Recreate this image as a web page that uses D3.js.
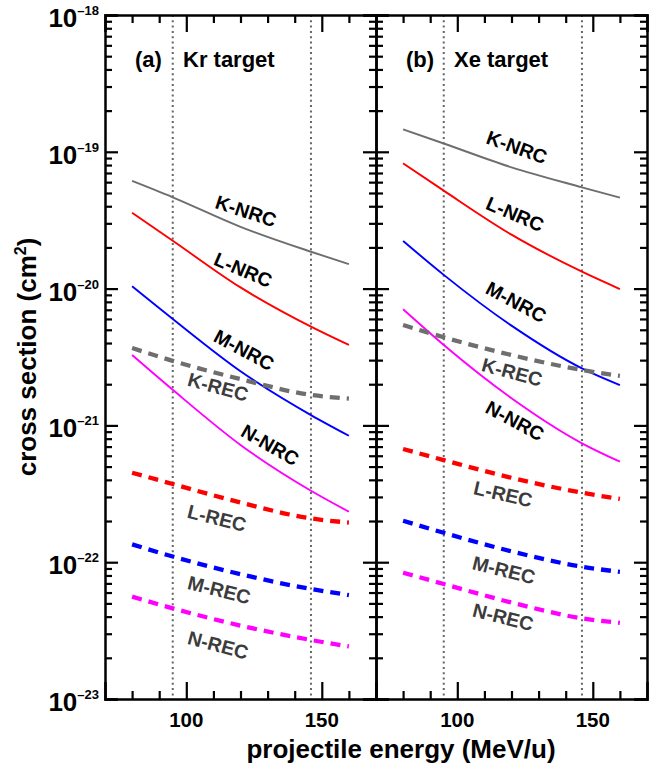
<!DOCTYPE html>
<html>
<head>
<meta charset="utf-8">
<script src="https://cdn.jsdelivr.net/npm/d3@7"></script>
<style>
  body { margin: 0; background: #fff; }
  svg { font-family: "Liberation Sans", Arial, Helvetica, sans-serif; font-weight: bold; }
  .axis path.domain { stroke: #000; stroke-width: 2.5; }
  .axis line { stroke: #000; stroke-width: 2.2; }
</style>
</head>
<body>
<svg width="649" height="767"></svg>
<script>
// projectile energy (MeV/u) at which the curves were read
var energies = [80, 95, 120, 146, 160];

// Kr target, cross sections in cm^2
var krKNRC = [6.12e-20, 4.65e-20, 2.83e-20, 1.86e-20, 1.51e-20];
var krLNRC = [3.59e-20, 2.24e-20, 1.02e-20, 5.27e-21, 3.87e-21];
var krMNRC = [1.04e-20, 6.0e-21, 2.49e-21, 1.19e-21, 8.4e-22];
var krNNRC = [3.27e-21, 1.82e-21, 7.2e-22, 3.33e-22, 2.34e-22];
var krKREC = [3.68e-21, 2.96e-21, 2.18e-21, 1.67e-21, 1.57e-21];
var krLREC = [4.51e-22, 3.73e-22, 2.73e-22, 2.09e-22, 1.95e-22];
var krMREC = [1.35e-22, 1.10e-22, 8.17e-23, 6.37e-23, 5.75e-23];
var krNREC = [5.6e-23, 4.6e-23, 3.44e-23, 2.70e-23, 2.42e-23];

// Xe target
var xeKNRC = [1.46e-19, 1.15e-19, 7.7e-20, 5.5e-20, 4.62e-20];
var xeLNRC = [8.24e-20, 5.2e-20, 2.48e-20, 1.33e-20, 9.93e-21];
var xeMNRC = [2.23e-20, 1.26e-20, 5.36e-21, 2.61e-21, 1.97e-21];
var xeNNRC = [7.06e-21, 3.87e-21, 1.58e-21, 7.4e-22, 5.43e-22];
var xeKREC = [5.42e-21, 4.41e-21, 3.27e-21, 2.54e-21, 2.3e-21];
var xeLREC = [6.72e-22, 5.58e-22, 4.14e-22, 3.22e-22, 2.9e-22];
var xeMREC = [2.01e-22, 1.64e-22, 1.2e-22, 9.27e-23, 8.5e-23];
var xeNREC = [8.38e-23, 6.93e-23, 5.07e-23, 3.89e-23, 3.6e-23];

// marker energies (dotted lines)
var markerEnergies = [95, 146];

var xTicks = [100, 150];
var yDecades = [1e-23, 1e-22, 1e-21, 1e-20, 1e-19, 1e-18];
var yExponents = ["\u201323", "\u201322", "\u201321", "\u201320", "\u201319", "\u201318"];

var panels = [
  {tag: "(a)", target: "Kr target", series: [
    {name: "K-NRC", v: krKNRC}, {name: "L-NRC", v: krLNRC}, {name: "M-NRC", v: krMNRC}, {name: "N-NRC", v: krNNRC},
    {name: "K-REC", v: krKREC}, {name: "L-REC", v: krLREC}, {name: "M-REC", v: krMREC}, {name: "N-REC", v: krNREC}]},
  {tag: "(b)", target: "Xe target", series: [
    {name: "K-NRC", v: xeKNRC}, {name: "L-NRC", v: xeLNRC}, {name: "M-NRC", v: xeMNRC}, {name: "N-NRC", v: xeNNRC},
    {name: "K-REC", v: xeKREC}, {name: "L-REC", v: xeLREC}, {name: "M-REC", v: xeMREC}, {name: "N-REC", v: xeNREC}]}
];

// label anchors in data coordinates [energy, value, angle]
var labelPos = [
  {"K-NRC": [122, 3.69e-20, 18], "L-NRC": [121, 1.37e-20, 23], "M-NRC": [121.3, 3.56e-21, 28], "N-NRC": [130.9, 7.19e-22, 30],
   "K-REC": [111.7, 1.91e-21, 15], "L-REC": [111.3, 2.1e-22, 14], "M-REC": [112.1, 6.27e-23, 14], "N-REC": [111.7, 2.48e-23, 15]},
  {"K-NRC": [122, 1.08e-19, 20], "L-NRC": [121.3, 3.51e-20, 23], "M-NRC": [121.7, 7.98e-21, 28], "N-NRC": [121.3, 1.08e-21, 28],
   "K-REC": [120.2, 2.45e-21, 15], "L-REC": [116.9, 3.15e-22, 13], "M-REC": [117.2, 8.77e-23, 14], "N-REC": [116.9, 3.97e-23, 14]}
];

var shellColor = {K: "#6e6e6e", L: "#ff0000", M: "#0000ff", N: "#ff00ff"};

var svg = d3.select("svg"),
    plotTop = 15, plotBottom = 699,
    panelLeft = [105, 376], panelW = 271;

var y = d3.scaleLog().domain([1e-23, 1e-18]).range([plotBottom, plotTop]);

var yMinor = [];
yDecades.slice(0, -1).forEach(function(d) {
  for (var k = 2; k <= 9; k++) yMinor.push(d * k);
});
var xMinor = d3.range(80, 170, 10).filter(function(d) { return xTicks.indexOf(d) < 0; });

panels.forEach(function(p, i) {
  var x0 = panelLeft[i];
  var x = d3.scaleLinear().domain([70, 170]).range([x0, x0 + panelW]);
  var g = svg.append("g");

  // dotted marker lines
  g.selectAll(".marker").data(markerEnergies).enter().append("line")
    .attr("x1", function(d) { return x(d); }).attr("x2", function(d) { return x(d); })
    .attr("y1", plotTop).attr("y2", plotBottom)
    .attr("stroke", "#666").attr("stroke-width", 2).attr("stroke-dasharray", "2,3.3");

  var line = d3.line()
    .x(function(d, j) { return x(energies[j]); })
    .y(function(d) { return y(d); })
    .curve(d3.curveMonotoneX);

  p.series.forEach(function(s) {
    var rec = s.name.indexOf("REC") > 0;
    g.append("path")
      .attr("d", line(s.v))
      .attr("fill", "none")
      .attr("stroke", shellColor[s.name[0]])
      .attr("stroke-width", rec ? 4.3 : 1.9)
      .attr("stroke-dasharray", rec ? "10,7" : null);

    var lp = labelPos[i][s.name];
    g.append("text")
      .attr("transform", "translate(" + x(lp[0]) + "," + y(lp[1]) + ") rotate(" + lp[2] + ")")
      .attr("text-anchor", "middle")
      .attr("dy", "0.35em")
      .attr("font-size", 19.5)
      .attr("fill", rec ? "#3c3c3c" : "#000")
      .text(s.name);
  });

  // axes: ticks point inward on all four sides
  var yl = g.append("g").attr("class", "axis").attr("transform", "translate(" + x0 + ",0)");
  yl.call(d3.axisLeft(y).tickValues(yDecades).tickSize(-13).tickFormat(""));
  yl.append("g").call(d3.axisLeft(y).tickValues(yMinor).tickSize(-7).tickFormat(""))
    .select(".domain").remove();
  var yr = g.append("g").attr("class", "axis").attr("transform", "translate(" + (x0 + panelW) + ",0)");
  yr.call(d3.axisRight(y).tickValues(yDecades).tickSize(-13).tickFormat(""));
  yr.append("g").call(d3.axisRight(y).tickValues(yMinor).tickSize(-7).tickFormat(""))
    .select(".domain").remove();

  var xb = g.append("g").attr("class", "axis").attr("transform", "translate(0," + plotBottom + ")");
  xb.call(d3.axisBottom(x).tickValues(xTicks).tickSize(-17).tickFormat(""));
  xb.append("g").call(d3.axisBottom(x).tickValues(xMinor).tickSize(-8).tickFormat(""))
    .select(".domain").remove();
  var xt = g.append("g").attr("class", "axis").attr("transform", "translate(0," + plotTop + ")");
  xt.call(d3.axisTop(x).tickValues(xTicks).tickSize(-17).tickFormat(""));
  xt.append("g").call(d3.axisTop(x).tickValues(xMinor).tickSize(-8).tickFormat(""))
    .select(".domain").remove();

  // x tick labels
  g.selectAll(".xlab").data(xTicks).enter().append("text")
    .attr("x", function(d) { return x(d); })
    .attr("y", 727)
    .attr("text-anchor", "middle")
    .attr("font-size", 20.5)
    .text(function(d) { return d; });

  // panel tag
  g.append("text").attr("x", x0 + 30).attr("y", 67).attr("font-size", 22).text(p.tag);
  g.append("text").attr("x", x0 + 78).attr("y", 67).attr("font-size", 22).text(p.target);
});

// y tick labels 10^n
svg.selectAll(".ylab").data(yDecades).enter().append("text")
  .attr("x", 99)
  .attr("y", function(d) { return y(d) + 12; })
  .attr("text-anchor", "end")
  .each(function(d, i) {
    var t = d3.select(this);
    t.append("tspan").attr("font-size", 26).text("10");
    t.append("tspan").attr("font-size", 13).attr("dy", -12).text(yExponents[i]);
  });

// axis titles
svg.append("text")
  .attr("transform", "translate(36,357) rotate(-90)")
  .attr("text-anchor", "middle")
  .attr("font-size", 26)
  .each(function() {
    var t = d3.select(this);
    t.append("tspan").text("cross section (cm");
    t.append("tspan").attr("font-size", 16).attr("dy", -10).text("2");
    t.append("tspan").attr("dy", 10).text(")");
  });

svg.append("text")
  .attr("x", 401)
  .attr("y", 758)
  .attr("text-anchor", "middle")
  .attr("font-size", 26)
  .text("projectile energy (MeV/u)");
</script>
</body>
</html>
